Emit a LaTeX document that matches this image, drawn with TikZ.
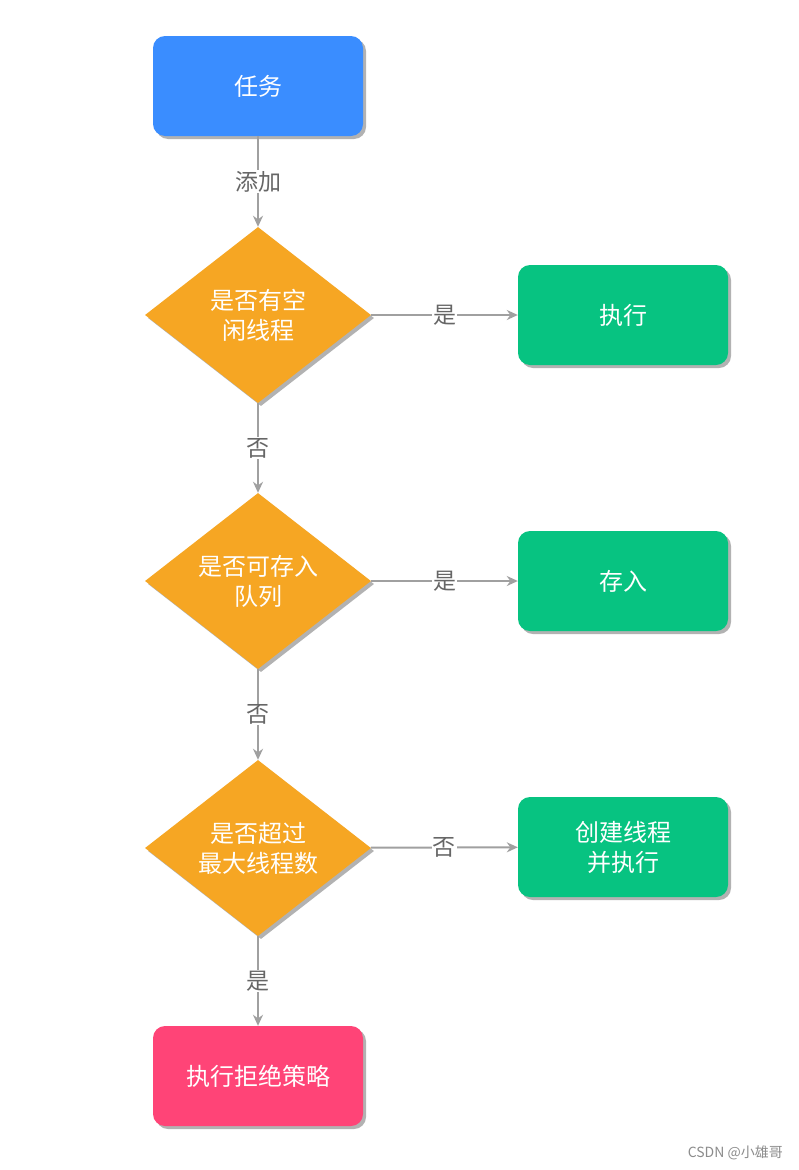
\documentclass[tikz,border=0pt]{standalone}
\usepackage{fontspec}
\newfontfamily\cjk{Noto Sans CJK SC}
\usetikzlibrary{shapes.geometric,arrows.meta,shadows}
\definecolor{cblue}{HTML}{3A8DFF}
\definecolor{corange}{HTML}{F6A623}
\definecolor{cgreen}{HTML}{07C381}
\definecolor{cpink}{HTML}{FF4477}
\definecolor{cline}{HTML}{A0A0A0}
\definecolor{ctext}{HTML}{666666}
\tikzset{
  shad/.style={drop shadow={shadow xshift=3pt,shadow yshift=-3pt,fill=black!30,opacity=1}},
  boxnode/.style={rectangle,rounded corners=12pt,minimum width=210pt,minimum height=100pt,
    text=white,font=\cjk\fontsize{24}{30}\selectfont,align=center,shad,inner sep=0pt},
  decnode/.style={diamond,minimum width=226pt,minimum height=176pt,fill=corange,
    text=white,font=\cjk\fontsize{24}{30}\selectfont,align=center,shad,inner sep=0pt},
  conn/.style={draw=cline,line width=2pt,-{Stealth[length=11pt,width=10pt]}},
  lbl/.style={fill=white,text=ctext,font=\cjk\fontsize{23}{26}\selectfont,inner sep=1pt}
}
\begin{document}
\begin{tikzpicture}[x=1pt,y=-1pt]
\useasboundingbox[fill=white] (0,0) rectangle (798,1170);
\node[boxnode,fill=cblue] (task) at (258,86) {任务};
\node[decnode] (d1) at (258,315) {是否有空\\闲线程};
\node[boxnode,fill=cgreen] (exec) at (623,315) {执行};
\node[decnode] (d2) at (258,581) {是否可存入\\队列};
\node[boxnode,fill=cgreen] (store) at (623,581) {存入};
\node[decnode] (d3) at (258,848) {是否超过\\最大线程数};
\node[boxnode,fill=cgreen] (create) at (623,847) {创建线程\\并执行};
\node[boxnode,fill=cpink] (reject) at (258,1076) {执行拒绝策略};
\draw[conn] (task) -- node[lbl] {添加} (d1);
\draw[conn] (d1) -- node[lbl] {是} (exec);
\draw[conn] (d1) -- node[lbl] {否} (d2);
\draw[conn] (d2) -- node[lbl] {是} (store);
\draw[conn] (d2) -- node[lbl] {否} (d3);
\draw[conn] (d3) -- node[lbl] {否} (create);
\draw[conn] (d3) -- node[lbl] {是} (reject);
\node[text=black!45,font=\cjk\fontsize{14}{16}\selectfont,anchor=east,inner sep=0pt] (wm) at (783,1153) {CSDN @小雄哥};
\end{tikzpicture}
\end{document}
